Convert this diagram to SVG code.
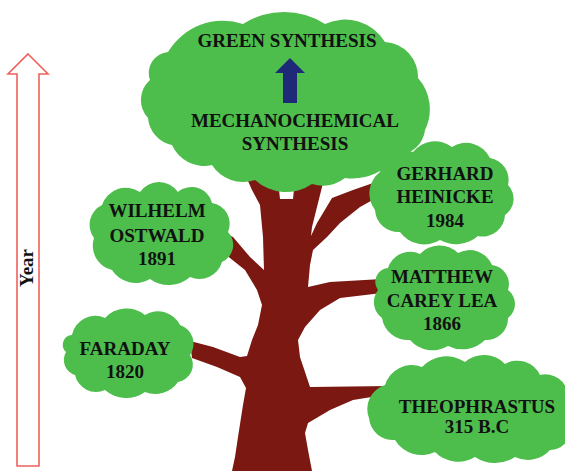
<svg xmlns="http://www.w3.org/2000/svg" width="565" height="471" viewBox="0 0 565 471">
  <style>
    .leaf { fill: #4dbe4b; }
    .bark { fill: #7a1811; }
    .label { font-family: "Liberation Serif", "Times New Roman", serif; font-weight: bold; font-size: 19px; fill: #111; text-anchor: middle; }
  </style>
  <rect width="565" height="471" fill="#ffffff"/>

  <!-- time axis -->
  <g id="year-axis">
    <polygon points="28,54 48,74 39,74 39,466 17,466 17,74 8,74" fill="#ffffff" stroke="#f0605c" stroke-width="1.6" stroke-linejoin="miter"/>
    <text class="label" transform="translate(33,268) rotate(-90)">Year</text>
  </g>

  <!-- trunk and branches -->
  <g id="connectors">
    <path class="bark" d="M244 172 L252 190 L260 205 L263 237 L264 270 L250 257 L233 237 L222 232 L220 250 L245 270 L257 290 L262 305 L258 325 L252 340 L247 356 L240 357 L213 347 L190 341 L192 358 L217 367 L240 377 L246 388 L243 405 L238 437 L235 457 L232 471 L312 471 L308 450 L305 433 L308 423 L330 410 L353 400 L390 394 L390 386 L310 387 L300 357 L298 340 L305 327 L320 310 L340 298 L382 293 L382 279 L330 282 L308 287 L310 265 L313 250 L327 237 L340 223 L360 207 L378 197 L376 182 L353 190 L332 198 L317 223 L311 236 L312 227 L318 203 L323 183 L326 170 L296 170 L293 199 L280 199 L277 170 Z"/>
  </g>

  <!-- crown -->
  <g id="crown">
    <path class="leaf" d="M168 52 A64 64 0 0 1 243 24 A76 76 0 0 1 325 24 A47 47 0 0 1 385 42 A35 35 0 0 1 418 78 A47 47 0 0 1 425 130 A28 28 0 0 1 398 155 A56 56 0 0 1 345 178 A37 37 0 0 1 312 184 A46 46 0 0 1 255 180 A36.5 36.5 0 0 1 212 165 A35 35 0 0 1 172 145 A30 30 0 0 1 148 118 A26.5 26.5 0 0 1 150 80 A21 21 0 0 1 168 52 Z"/>
    <text class="label" x="287" y="47">GREEN SYNTHESIS</text>
    <polygon points="290,58 305,73 297,73 297,103 283,103 283,73 275,73" fill="#1e2a78"/>
    <text class="label" x="295" y="127">MECHANOCHEMICAL</text>
    <text class="label" x="295" y="150">SYNTHESIS</text>
  </g>

  <g id="wilhelm-ostwald">
    <path class="leaf" d="M102 205 A25.2 25.2 0 0 1 140 192 A23 23 0 0 1 178 192 A21 21 0 0 1 212 203 A21 21 0 0 1 228 232 A18.6 18.6 0 0 1 222 262 A23.5 23.5 0 0 1 190 277 A32 32 0 0 1 150 279 A27.8 27.8 0 0 1 112 270 A25 25 0 0 1 94 238 A22 22 0 0 1 102 205 Z"/>
    <text class="label" x="157" y="217">WILHELM</text>
    <text class="label" x="157" y="242">OSTWALD</text>
    <text class="label" x="157" y="265">1891</text>
  </g>

  <g id="faraday">
    <path class="leaf" d="M72 335 A23.6 23.6 0 0 1 105 318 A29 29 0 0 1 145 315 A24.7 24.7 0 0 1 180 325 A19.6 19.6 0 0 1 190 355 A17.6 17.6 0 0 1 178 382 A27.8 27.8 0 0 1 145 392 A31.9 31.9 0 0 1 105 390 A21.6 21.6 0 0 1 75 375 A15.7 15.7 0 0 1 66 352 A9.75 9.75 0 0 1 72 335 Z"/>
    <text class="label" x="125" y="355">FARADAY</text>
    <text class="label" x="125" y="378">1820</text>
  </g>

  <g id="gerhard-heinicke">
    <path class="leaf" d="M380 172 A25.2 25.2 0 0 1 413 152 A28.1 28.1 0 0 1 452 147 A26.3 26.3 0 0 1 490 158 A22.3 22.3 0 0 1 508 185 A19.7 19.7 0 0 1 505 215 A22.3 22.3 0 0 1 478 236 A33.4 33.4 0 0 1 440 240 A30 30 0 0 1 400 232 A23.3 23.3 0 0 1 375 210 A27 27 0 0 1 380 172 Z"/>
    <text class="label" x="445" y="180">GERHARD</text>
    <text class="label" x="445" y="203">HEINICKE</text>
    <text class="label" x="445" y="227">1984</text>
  </g>

  <g id="matthew-carey-lea">
    <path class="leaf" d="M388 268 A23 23 0 0 1 420 254 A26.6 26.6 0 0 1 458 253 A24.3 24.3 0 0 1 492 265 A19.2 19.2 0 0 1 508 290 A17.5 17.5 0 0 1 508 318 A21.6 21.6 0 0 1 485 340 A32.3 32.3 0 0 1 448 346 A29.9 29.9 0 0 1 410 340 A26.1 26.1 0 0 1 382 318 A19.7 19.7 0 0 1 378 290 A13.9 13.9 0 0 1 388 268 Z"/>
    <text class="label" x="442" y="283">MATTHEW</text>
    <text class="label" x="442" y="307">CAREY LEA</text>
    <text class="label" x="442" y="330">1866</text>
  </g>

  <g id="theophrastus">
    <path class="leaf" d="M385 385 A28 28 0 0 1 422 367 A33.3 33.3 0 0 1 465 362 A29 29 0 0 1 505 364 A25 25 0 0 1 540 375 A22.5 22.5 0 0 1 568 395 A28.5 28.5 0 0 1 570 430 A19.7 19.7 0 0 1 550 450 A29.6 29.6 0 0 1 515 457 A36.3 36.3 0 0 1 475 457 A32.5 32.5 0 0 1 435 452 A31.3 31.3 0 0 1 395 440 A24.1 24.1 0 0 1 369 418 A25 25 0 0 1 385 385 Z"/>
    <text class="label" x="477" y="413">THEOPHRASTUS</text>
    <text class="label" x="477" y="433">315 B.C</text>
  </g>
</svg>
